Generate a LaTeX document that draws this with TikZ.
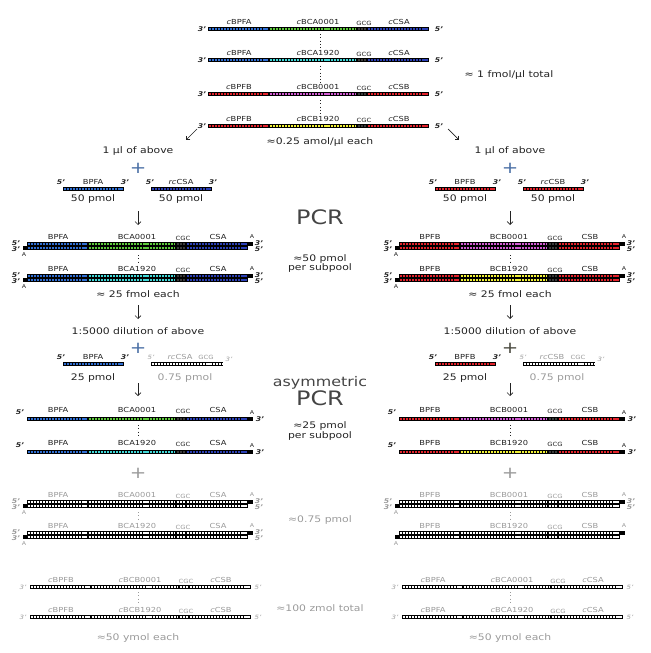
\documentclass[tikz,border=0pt]{standalone}
\usepackage{fontspec}
\setmainfont{DejaVu Sans}[FakeStretch=1.2]
\usetikzlibrary{arrows.meta}
\definecolor{bpfa}{HTML}{2F6ED2}
\definecolor{csa}{HTML}{2B3FB5}
\definecolor{grn}{HTML}{5CC93A}
\definecolor{cyn}{HTML}{40D8D8}
\definecolor{dred}{HTML}{E3222B}
\definecolor{mag}{HTML}{D25AD2}
\definecolor{yel}{HTML}{F2F235}
\definecolor{dark}{HTML}{3A3A3A}
\definecolor{ink}{HTML}{222222}
\definecolor{faded}{HTML}{9A9A9A}
\definecolor{title}{HTML}{444444}
\definecolor{plusblue}{HTML}{4A6FA5}
\definecolor{plusdark}{HTML}{4A4A40}

% one run of beads
\newcommand{\beads}[4]{%
  \draw[beadbg] (#1,#3) -- (#2,#3);
  \draw[beadfg,#4] (#1,#3) -- (#2,#3);}
% x, y, four segment colours
\newcommand{\strand}[6]{%
  \beads{#1}{#1+61}{#2}{#3}%
  \beads{#1+61}{#1+149}{#2}{#4}%
  \beads{#1+149}{#1+159}{#2}{#5}%
  \beads{#1+159}{#1+221}{#2}{#6}}
% name, x, y, four texts
\newcommand{\seglabels}[7]{%
  \node[seglbl] (#1a) at (#2+31,#3) {#4};
  \node[seglbl] (#1b) at (#2+110,#3) {#5};
  \node[midlbl] (#1c) at (#2+156,#3+1.5) {#6};
  \node[seglbl] (#1d) at (#2+191,#3) {#7};}
% name, x, y centre, four colours
\newcommand{\dsdna}[7]{%
  \strand{#2}{#3-2}{#4}{#5}{#6}{#7}%
  \beads{#2+221}{#2+226}{#3-2}{black}%
  \strand{#2}{#3+2}{#4}{#5}{#6}{#7}%
  \beads{#2-4}{#2}{#3+2}{black}%
  \node[albl] (#1ta) at (#2+225,#3-9) {A};
  \node[albl] (#1ba) at (#2-3,#3+9) {A};}
\newcommand{\dsends}[3]{%
  \node[endlbl] (#1l5) at (#2-11,#3-3) {5'};
  \node[endlbl] (#1l3) at (#2-11,#3+3) {3'};
  \node[endlbl] (#1r3) at (#2+232,#3-3) {3'};
  \node[endlbl] (#1r5) at (#2+232,#3+3) {5'};}

\begin{document}
\begin{tikzpicture}[x=0.03cm,y=-0.03cm,text=ink,
  beadbg/.style={line width=3.4pt,draw=black},
  beadfg/.style={line width=2.1pt,dash pattern=on 1.8pt off 0.8pt,shorten <=0.5pt,shorten >=0.5pt},
  txt/.style={font=\fontsize{7.7}{8}\selectfont,inner sep=0pt},
  seglbl/.style={font=\fontsize{5.9}{6}\selectfont,inner sep=0pt},
  midlbl/.style={font=\fontsize{4.9}{5}\selectfont,inner sep=0pt},
  endlbl/.style={font=\fontsize{5.5}{6}\selectfont\bfseries\itshape,inner sep=0pt},
  albl/.style={font=\fontsize{4.5}{5}\selectfont,inner sep=0pt},
  plus/.style={font=\fontsize{14}{14}\selectfont,inner sep=0pt},
  big/.style={font=\fontsize{17}{17}\selectfont,text=title,inner sep=0pt},
  arr/.style={-{Straight Barb[length=2.5pt,width=5pt]},semithick,draw=ink},
  dots/.style={draw=ink,line width=0.8pt,dash pattern=on 0.8pt off 2pt}]
\useasboundingbox (0,0) rectangle (650,653);

% template pool
\foreach \nm/\yy/\pa/\bb/\mm/\cc/\cA/\cB/\cD in
  {t1/29/BPFA/BCA0001/GCG/CSA/bpfa/grn/csa,
   t2/60/BPFA/BCA1920/GCG/CSA/bpfa/cyn/csa,
   t3/94/BPFB/BCB0001/CGC/CSB/dred/mag/dred,
   t4/126/BPFB/BCB1920/CGC/CSB/dred/yel/dred}{
  \strand{208}{\yy}{\cA}{\cB}{dark}{\cD}
  \seglabels{\nm}{208}{\yy-7}{\textit{c}\pa}{\textit{c}\bb}{\mm}{\textit{c}\cc}
  \node[endlbl] (\nm l) at (202,\yy) {3'};
  \node[endlbl] (\nm r) at (439,\yy) {5'};
}
\draw[dots] (320,34) -- (320,49);
\draw[dots] (320,66) -- (320,84);
\draw[dots] (320,100) -- (320,116);
\node[txt] (total) at (509,75) {≈ 1 fmol/µl total};
\node[txt] (each) at (320,142) {≈0.25 amol/µl each};
\coordinate (sl1) at (197,129);
\coordinate (sl2) at (186,140);
\coordinate (sr1) at (448,129);
\coordinate (sr2) at (459,140);
\draw[arr] (sl1) -- (sl2);
\draw[arr] (sr1) -- (sr2);

% middle texts
\node[big] (pcr) at (320,217) {PCR};
\node[txt] (pcra) at (320,259) {≈50 pmol};
\node[txt] (pcrb) at (320,268) {per subpool};
\node[big,font=\fontsize{11.3}{12}\selectfont] (asym) at (320,383) {asymmetric};
\node[big] (apcr) at (320,398) {PCR};
\node[txt] (asa) at (320,426) {≈25 pmol};
\node[txt] (asb) at (320,436) {per subpool};
\node[txt,text=faded] (gra) at (320,520) {≈0.75 pmol};
\node[txt,text=faded] (grb) at (320,608) {≈100 zmol total};

% the two subpools
\foreach \dx/\sd/\prA/\bcN/\pmid/\qmid/\csN/\colA/\colB/\colC/\colD/\oprA/\obcN/\ocsN/\plusc in
  {0/L/BPFA/BCA/CGC/GCG/CSA/bpfa/grn/cyn/csa/BPFB/BCB/CSB/plusblue,
   372/R/BPFB/BCB/GCG/CGC/CSB/dred/mag/yel/dred/BPFA/BCA/CSA/plusdark}{
  % PCR
  \node[txt] (\sd mu) at (138+\dx,151) {1 µl of above};
  \node[plus,text=plusblue] (\sd pl1) at (138+\dx,168) {+};
  \beads{63+\dx}{124+\dx}{189}{\colA}
  \node[seglbl] (\sd fp) at (93+\dx,182) {\prA};
  \node[endlbl] (\sd fp5) at (61+\dx,182) {5'};
  \node[endlbl] (\sd fp3) at (125+\dx,182) {3'};
  \beads{151+\dx}{212+\dx}{189}{\colD}
  \node[seglbl] (\sd rp) at (181+\dx,182) {\textit{rc}\csN};
  \node[endlbl] (\sd rp5) at (150+\dx,182) {5'};
  \node[endlbl] (\sd rp3) at (213+\dx,182) {3'};
  \node[txt] (\sd fq) at (93+\dx,199) {50 pmol};
  \node[txt] (\sd rq) at (181+\dx,199) {50 pmol};
  \coordinate (\sd a1) at (138+\dx,211);
  \coordinate (\sd b1) at (138+\dx,225);
  \draw[arr] (\sd a1) -- (\sd b1);
  \dsdna{\sd p1}{27+\dx}{246}{\colA}{\colB}{dark}{\colD}
  \seglabels{\sd p1}{27+\dx}{237}{\prA}{\bcN0001}{\pmid}{\csN}
  \dsends{\sd p1}{27+\dx}{246}
  \draw[dots] (138+\dx,255) -- (138+\dx,263);
  \dsdna{\sd p2}{27+\dx}{278}{\colA}{\colC}{dark}{\colD}
  \seglabels{\sd p2}{27+\dx}{269}{\prA}{\bcN1920}{\pmid}{\csN}
  \dsends{\sd p2}{27+\dx}{278}
  \node[txt] (\sd fm) at (138+\dx,294) {≈ 25 fmol each};
  % asymmetric PCR
  \coordinate (\sd a2) at (138+\dx,305);
  \coordinate (\sd b2) at (138+\dx,319);
  \draw[arr] (\sd a2) -- (\sd b2);
  \node[txt] (\sd dil) at (138+\dx,331) {1:5000 dilution of above};
  \node[plus,text=\plusc] (\sd pl2) at (138+\dx,348) {+};
  \beads{63+\dx}{124+\dx}{364}{\colA}
  \node[seglbl] (\sd gp) at (93+\dx,357) {\prA};
  \node[endlbl] (\sd gp5) at (61+\dx,357) {5'};
  \node[endlbl] (\sd gp3) at (125+\dx,357) {3'};
  \beads{151+\dx}{223+\dx}{364}{white}
  \begin{scope}[text=faded]
  \node[seglbl] (\sd hp) at (180+\dx,357) {\textit{rc}\csN};
  \node[midlbl] (\sd hpm) at (206+\dx,357) {\qmid};
  \node[endlbl,font=\fontsize{5}{6}\selectfont\itshape] (\sd hp5) at (151+\dx,357) {5'};
  \node[endlbl,font=\fontsize{5}{6}\selectfont\itshape] (\sd hp3) at (229+\dx,359) {3'};
  \node[txt] (\sd hq) at (185+\dx,378) {0.75 pmol};
  \end{scope}
  \node[txt] (\sd gq) at (93+\dx,378) {25 pmol};
  \coordinate (\sd a3) at (138+\dx,383);
  \coordinate (\sd b3) at (138+\dx,396);
  \draw[arr] (\sd a3) -- (\sd b3);
  \strand{27+\dx}{419}{\colA}{\colB}{dark}{\colD}
  \beads{248+\dx}{253+\dx}{419}{black}
  \seglabels{\sd s1}{27+\dx}{410}{\prA}{\bcN0001}{\pmid}{\csN}
  \node[endlbl] (\sd s15) at (20+\dx,412) {5'};
  \node[albl] (\sd s1a) at (252+\dx,413) {A};
  \node[endlbl] (\sd s13) at (260+\dx,419) {3'};
  \draw[dots] (138+\dx,425) -- (138+\dx,438);
  \strand{27+\dx}{452}{\colA}{\colC}{dark}{\colD}
  \beads{248+\dx}{253+\dx}{452}{black}
  \seglabels{\sd s2}{27+\dx}{443}{\prA}{\bcN1920}{\pmid}{\csN}
  \node[endlbl] (\sd s25) at (20+\dx,445) {5'};
  \node[albl] (\sd s2a) at (252+\dx,446) {A};
  \node[endlbl] (\sd s23) at (260+\dx,452) {3'};
  % left over templates
  \begin{scope}[text=faded]
  \node[plus] (\sd pl3) at (138+\dx,473) {+};
  \dsdna{\sd g1}{27+\dx}{504}{white}{white}{white}{white}
  \seglabels{\sd g1}{27+\dx}{495}{\prA}{\bcN0001}{\pmid}{\csN}
  \dsends{\sd g1}{27+\dx}{504}
  \draw[dots,draw=faded] (138+\dx,512) -- (138+\dx,519);
  \dsdna{\sd g2}{27+\dx}{535}{white}{white}{white}{white}
  \seglabels{\sd g2}{27+\dx}{526}{\prA}{\bcN1920}{\pmid}{\csN}
  \ifnum\dx=0 \dsends{\sd g2}{27+\dx}{535}\fi
  \strand{30+\dx}{587}{white}{white}{white}{white}
  \seglabels{\sd c1}{30+\dx}{580}{\textit{c}\oprA}{\textit{c}\obcN0001}{\pmid}{\textit{c}\ocsN}
  \node[endlbl,font=\fontsize{5}{6}\selectfont\itshape] (\sd c1l) at (23+\dx,587) {3'};
  \node[endlbl,font=\fontsize{5}{6}\selectfont\itshape] (\sd c1r) at (258+\dx,587) {5'};
  \draw[dots,draw=faded] (138+\dx,592) -- (138+\dx,604);
  \strand{30+\dx}{617}{white}{white}{white}{white}
  \seglabels{\sd c2}{30+\dx}{610}{\textit{c}\oprA}{\textit{c}\obcN1920}{\pmid}{\textit{c}\ocsN}
  \node[endlbl,font=\fontsize{5}{6}\selectfont\itshape] (\sd c2l) at (23+\dx,617) {3'};
  \node[endlbl,font=\fontsize{5}{6}\selectfont\itshape] (\sd c2r) at (258+\dx,617) {5'};
  \node[txt] (\sd ym) at (138+\dx,638) {≈50 ymol each};
  \end{scope}
}
\end{tikzpicture}
\end{document}
